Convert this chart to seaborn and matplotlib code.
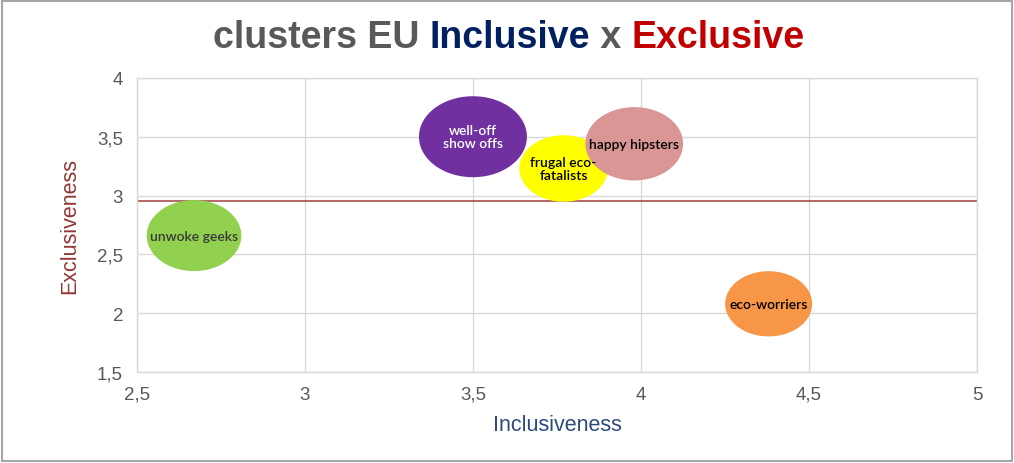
import matplotlib

matplotlib.use('Agg')
import matplotlib.pyplot as plt
import numpy as np
import pandas as pd
import seaborn as sns
from matplotlib.path import Path
from matplotlib.patches import Rectangle

# cluster data
clusters = ['well-off show offs', 'frugal eco-fatalists', 'happy hipsters',
            'unwoke geeks', 'eco-worriers']
labels = ['well-off\nshow offs', 'frugal eco-\nfatalists', 'happy hipsters',
          'unwoke geeks', 'eco-worriers']
inclusiveness = [3.50, 3.77, 3.98, 2.67, 4.38]
exclusiveness = [3.50, 3.23, 3.44, 2.66, 2.08]
bubble = [11.7, 7.9, 9.6, 9.0, 7.6]
colors = ['#7030A0', '#FFFF00', '#D99694', '#92D050', '#F79646']
text_colors = ['white', 'black', 'black', '#3A3A3A', 'black']
mean_excl = 2.95

xticks = [2.5, 3, 3.5, 4, 4.5, 5]
yticks = [1.5, 2, 2.5, 3, 3.5, 4]

df = pd.DataFrame({'Inclusiveness': inclusiveness,
                   'Exclusiveness': exclusiveness,
                   'cluster': clusters, 'bubble': bubble})

sns.set_theme(style='whitegrid')
plt.rcParams['font.family'] = ['Liberation Sans', 'DejaVu Sans']

fig = plt.figure(figsize=(10.14, 4.64), dpi=100)
ax = fig.add_axes([0.135, 0.196, 0.8285, 0.634])

# elliptical bubble marker (slightly wider than tall, as in the source)
t = np.linspace(0, 2 * np.pi, 80)
ell = Path(np.column_stack([np.cos(t), 0.75 * np.sin(t)]), closed=True)

sns.scatterplot(data=df, x='Inclusiveness', y='Exclusiveness',
                hue='cluster', palette=dict(zip(clusters, colors)),
                size='bubble', sizes=(3924, 6047),
                size_norm=(min(bubble), max(bubble)),
                marker=ell, linewidth=0, alpha=1, legend=False, ax=ax,
                zorder=3)

ax.axhline(mean_excl, color='#A0403E', lw=1.1, zorder=2)

for x, y, lab, tc in zip(inclusiveness, exclusiveness, labels, text_colors):
    ax.text(x, y, lab, ha='center', va='center', color=tc, fontsize=10,
            family=['Lato', 'DejaVu Sans'], fontweight='semibold',
            linespacing=1.15, zorder=4)

ax.set_xlim(2.5, 5)
ax.set_ylim(1.5, 4)
ax.set_xticks(xticks)
ax.set_yticks(yticks)
fmt = lambda v: ('%g' % v).replace('.', ',')
ax.set_xticklabels([fmt(v) for v in xticks])
ax.set_yticklabels([fmt(v) for v in yticks])
ax.tick_params(labelsize=13.5, colors='#595959', length=0, pad=10)
ax.grid(True, color='#D9D9D9', lw=1)
for s in ax.spines.values():
    s.set_visible(True)
    s.set_color('#D9D9D9')
    s.set_linewidth(1)

ax.set_xlabel('Inclusiveness', fontsize=15.5, color='#2E4A7D', labelpad=8)
ax.set_ylabel('Exclusiveness', fontsize=15.5, color='#943634', labelpad=12)

# multi-coloured title
parts = [('clusters EU ', '#595959'), ('Inclusive', '#002060'),
         (' x ', '#595959'), ('Exclusive', '#C00000')]
fig.canvas.draw()
r = fig.canvas.get_renderer()
texts = []
for s, c in parts:
    tx = fig.text(0, 0.918, s, fontsize=27, fontweight='bold', color=c,
                  ha='left', va='center')
    texts.append(tx)
widths = [tx.get_window_extent(r).width for tx in texts]
x0 = (509 - sum(widths) / 2) / 1014
for tx, w in zip(texts, widths):
    tx.set_x(x0)
    x0 += w / 1014

fig.patches.append(Rectangle((0.002, 0.004), 0.996, 0.992,
                             transform=fig.transFigure, fill=False,
                             edgecolor='#A6A6A6', lw=1.5))

fig.savefig('out.png', dpi=100)
